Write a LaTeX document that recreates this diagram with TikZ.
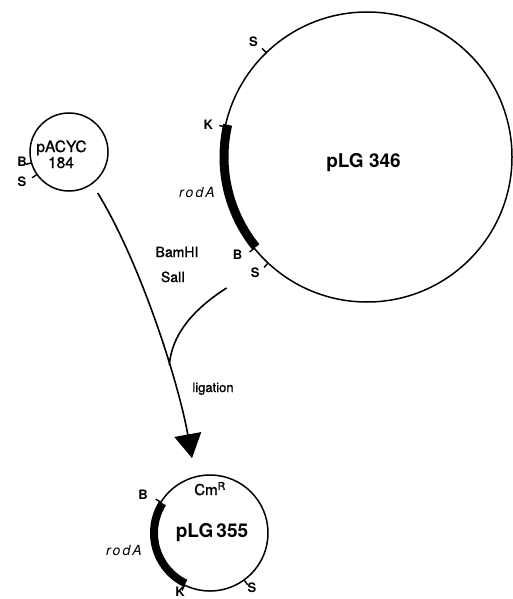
\documentclass[tikz,border=0pt]{standalone}
\usepackage{fontspec}
\setmainfont{TeX Gyre Heros}
\newfontfamily\medfont[FakeBold=1.2]{TeX Gyre Heros}
\usetikzlibrary{arrows.meta,calc}
\begin{document}
\begin{tikzpicture}[x=1pt,y=1pt,
  ring/.style={draw,circle,line width=1.5pt,inner sep=0pt,outer sep=0pt},
  gene/.style={line width=9pt},
  sitetick/.style={line width=1.4pt},
  sitelab/.style={font=\fontsize{13}{13}\selectfont\bfseries, inner sep=0pt},
  plname/.style={font=\fontsize{19}{19}\selectfont\bfseries, anchor=base, inner sep=0pt},
  smallname/.style={font=\fontsize{15.5}{15.5}\selectfont\medfont, anchor=base, inner sep=0pt},
  enzyme/.style={font=\fontsize{14}{14}\selectfont\medfont, anchor=base, inner sep=0pt},
  genelab/.style={font=\fontsize{14}{14}\selectfont\itshape\addfontfeature{LetterSpace=15}, anchor=base, inner sep=0pt},
  conn/.style={line width=1.6pt}
]
\useasboundingbox (0,0) rectangle (513,-599);

% plasmid circles
\node[ring, minimum size=290pt] (big) at (367,-157) {};
\node[ring, minimum size=78pt] (pacyc) at (69,-152) {};
\node[ring, minimum size=116pt] (p355) at (210,-533) {};

% pLG 346
\draw[gene] ($(big.center)+(167:143)$) arc[start angle=167,end angle=219,radius=143];
\foreach \a in {134,168,219,227}
  \draw[sitetick] ($(big.center)+(\a:145)$) -- ($(big.center)+(\a:151)$);
\node[sitelab] (bigS1) at ($(big.center)+(134.5:162)$) {S};
\node[sitelab] (bigK) at ($(big.center)+(168.5:162)$) {K};
\node[sitelab] (bigB) at ($(big.center)+(217:162)$) {B};
\node[sitelab] (bigS2) at ($(big.center)+(226:161)$) {S};
\node[plname] (bigname) at (363.5,-167) {pLG 346};
\node[genelab] (bigrod) at (197,-197) {rodA};

% pACYC 184
\foreach \a in {196,215}
  \draw[sitetick] ($(pacyc.center)+(\a:39)$) -- ($(pacyc.center)+(\a:45)$);
\node[sitelab] (pB) at ($(pacyc.center)+(-47,-10)$) {B};
\node[sitelab] (pS) at ($(pacyc.center)+(-47,-30)$) {S};
\node[smallname] (pname1) at (61.5,-152) {pACYC};
\node[smallname] (pname2) at (61,-168) {184};

% pLG 355
\draw[gene, line width=8pt] ($(p355.center)+(148:56)$) arc[start angle=148,end angle=244,radius=56];
\foreach \a in {148,244,306}
  \draw[sitetick] ($(p355.center)+(\a:58)$) -- ($(p355.center)+(\a:64)$);
\node[sitelab] (qB) at ($(p355.center)+(-67,38)$) {B};
\node[sitelab] (qK) at ($(p355.center)+(-30,-59)$) {K};
\node[sitelab] (qS) at ($(p355.center)+(42,-55)$) {S};
\node[plname] (qname) at (212,-537) {pLG\,355};
\node[enzyme, font=\fontsize{15}{15}\selectfont\medfont] (qcm) at (210,-495) {Cm\textsuperscript{R}};
\node[genelab] (qrod) at (124,-555) {rodA};

% connectors
\coordinate (a0) at ($(pacyc.center)+(-55:50)$);
\coordinate (a1) at ($(p355.center)+(103.5:77)$);
\coordinate (b0) at ($(big.center)+(223:192)$);
\path (a0) .. controls (140,-262) and (178,-380) .. (a1) coordinate[pos=0.65] (m);
\draw[conn, -{Triangle[length=24pt,width=27pt]}] (a0) .. controls (140,-262) and (178,-380) .. (a1);
\draw[conn] (b0) .. controls (200,-305) and (172,-330) .. (m);

% labels
\node[enzyme] (bam) at (177,-257) {BamHI};
\node[enzyme] (sal) at (173,-282) {SalI};
\node[enzyme, font=\fontsize{13}{13}\selectfont\medfont] (lig) at (213,-392) {ligation};
\end{tikzpicture}
\end{document}
